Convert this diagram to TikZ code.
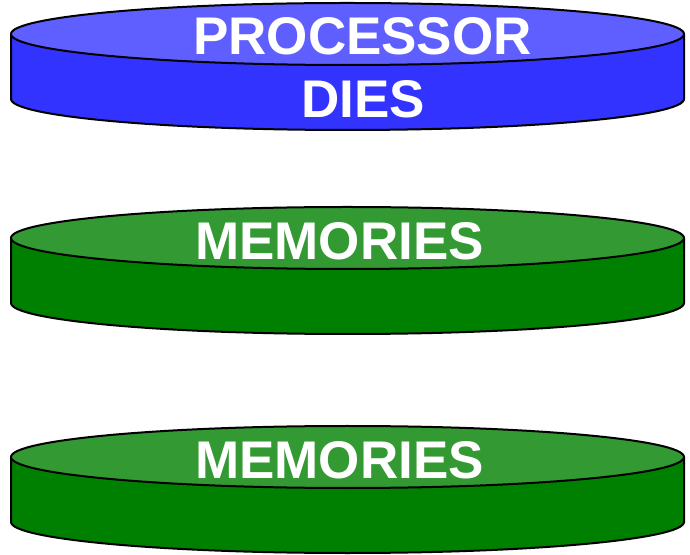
\documentclass[tikz,border=0pt]{standalone}
\usepackage{fontspec}
\setmainfont{Liberation Sans}
\definecolor{bluetop}{HTML}{5F5FFF}
\definecolor{blueside}{HTML}{3333FF}
\definecolor{greentop}{HTML}{339933}
\definecolor{greenside}{HTML}{008000}
\newcommand{\mydisk}[3]{% #1 top center y, #2 top color, #3 side color
  \fill[#3] (11,#1) -- (11,#1-65) arc[start angle=180,end angle=360,x radius=336.5,y radius=31] -- (684,#1) -- cycle;
  \draw[line width=2] (11,#1) -- (11,#1-65) arc[start angle=180,end angle=360,x radius=336.5,y radius=31] -- (684,#1);
  \draw[line width=2,fill=#2] (347.5,#1) ellipse[x radius=336.5,y radius=31];
}
\begin{document}
\begin{tikzpicture}[x=1pt,y=1pt,
  lbl/.style={text=white,font=\fontsize{53}{53}\selectfont\bfseries,anchor=base,inner sep=0pt}]
\useasboundingbox (0,0) rectangle (690,554);
\mydisk{520}{bluetop}{blueside}
\mydisk{316}{greentop}{greenside}
\mydisk{97}{greentop}{greenside}
\node[lbl] (proc) at (362.5,499) {PROCESSOR};
\node[lbl] (dies) at (363,436) {DIES};
\node[lbl] (mem1) at (339.5,294.5) {MEMORIES};
\node[lbl] (mem2) at (339.5,75.5) {MEMORIES};
\end{tikzpicture}
\end{document}
